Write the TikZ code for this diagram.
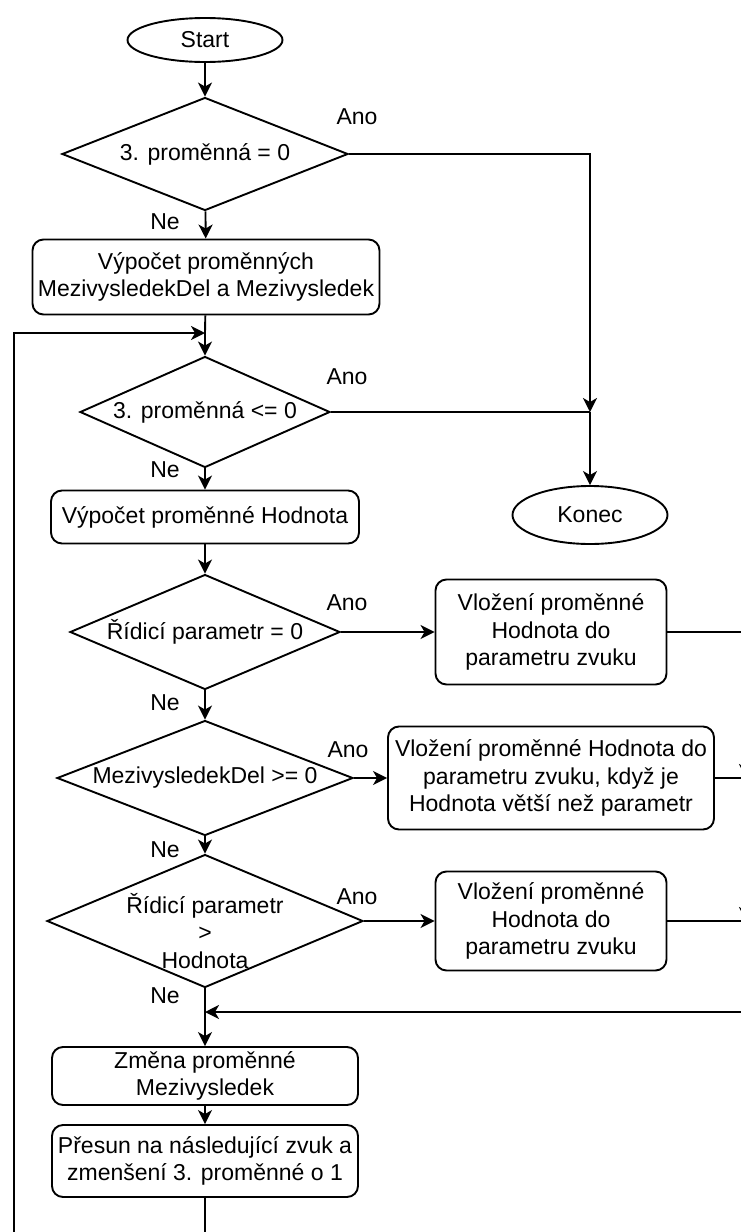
\documentclass[tikz,border=0pt]{standalone}
\usepackage{fontspec}
\setmainfont{Liberation Sans}
\usetikzlibrary{shapes.geometric,arrows.meta}
\begin{document}
\begin{tikzpicture}[x=1pt,y=-1pt,
  every node/.style={font=\fontsize{23}{27.5}\selectfont},
  line/.style={line width=1.9pt},
  arr/.style={line, -{Stealth[length=14pt,width=14pt,inset=4pt]}},
  term/.style={ellipse, draw, line width=1.9pt, inner sep=0pt},
  dec/.style={diamond, draw, line width=1.9pt, inner sep=0pt, aspect=2.5},
  proc/.style={rectangle, rounded corners=11pt, draw, line width=1.9pt, inner sep=0pt, align=center},
  lbl/.style={inner sep=0pt}
]
\useasboundingbox (0,0) rectangle (741,1232);
\clip (0,0) rectangle (741,1232);

% main column
\node[term, minimum width=155pt, minimum height=44pt] (start) at (205,40) {Start};
\node[dec, minimum width=286pt, minimum height=113pt] (d1) at (205,154) {3. proměnná = 0};
\node[proc, minimum width=347pt, minimum height=75pt] (b1) at (206,277) {Výpočet proměnných\\MezivysledekDel a Mezivysledek};
\node[dec, minimum width=250pt, minimum height=111pt] (d2) at (205,412) {3. proměnná <= 0};
\node[term, minimum width=155pt, minimum height=58pt] (konec) at (590,515) {Konec};
\node[proc, minimum width=308pt, minimum height=53pt] (b2) at (205,517) {Výpočet proměnné Hodnota};
\node[dec, minimum width=270pt, minimum height=115pt] (d3) at (205,632) {Řídicí parametr = 0};
\node[proc, minimum width=231pt, minimum height=105pt] (ba) at (551,632) {Vložení proměnné\\Hodnota do\\parametru zvuku};
\node[dec, minimum width=296pt, minimum height=115pt] (d4) at (205,778) {MezivysledekDel >= 0};
\node[proc, minimum width=326pt, minimum height=103pt] (bb) at (551,778) {Vložení proměnné Hodnota do\\parametru zvuku, když je\\Hodnota větší než parametr};
% this decision's text runs over its outline, so the outline is sized on its own
\node[dec, minimum width=316pt, minimum height=133pt] (d5) at (205,921) {};
\node[lbl, align=center] (d5text) at (205,931) {Řídicí parametr\\>\\Hodnota};
\node[proc, minimum width=231pt, minimum height=99pt] (bc) at (551,921) {Vložení proměnné\\Hodnota do\\parametru zvuku};
\node[proc, minimum width=306pt, minimum height=58pt] (bd) at (205,1076) {Změna proměnné\\Mezivysledek};
\node[proc, minimum width=306pt, minimum height=72pt] (be) at (205,1161) {Přesun na následující zvuk a\\zmenšení 3. proměnné o 1};

% branch labels
\node[lbl] (l1a) at (357,117) {Ano};
\node[lbl] (l1n) at (165,222) {Ne};
\node[lbl] (l2a) at (347,377) {Ano};
\node[lbl] (l2n) at (165,470) {Ne};
\node[lbl] (l3a) at (347,603) {Ano};
\node[lbl] (l3n) at (165,703) {Ne};
\node[lbl] (l4a) at (348,750) {Ano};
\node[lbl] (l4n) at (165,850) {Ne};
\node[lbl] (l5a) at (357,897) {Ano};
\node[lbl] (l5n) at (165,996) {Ne};

% junction points
\coordinate (jend) at (590,412);
\coordinate (jloop) at (205,333);
\coordinate (jmerge) at (205,1012);
\coordinate (ra) at (746,632);
\coordinate (rb) at (746,778);
\coordinate (rc) at (746,921);
\coordinate (rd) at (746,1012);
\coordinate (loopbot) at (14,1240);
\coordinate (loopcorner) at (14,333);
\coordinate (bebot) at (205,1240);

% connectors
\draw[arr] (start) -- (d1);
\draw[arr] (d1) -- (b1);
\draw[arr] (d1.east) -| (jend);
\draw[arr] (jend) -- (konec);
\draw[line] (b1) -- (jloop);
\draw[arr] (jloop) -- (d2);
\draw[line] (d2.east) -- (jend);
\draw[arr] (d2) -- (b2);
\draw[arr] (b2) -- (d3);
\draw[arr] (d3) -- (ba);
\draw[arr] (d3) -- (d4);
\draw[arr] (d4) -- (bb);
\draw[arr] (d4) -- (d5);
\draw[arr] (d5) -- (bc);
\draw[line] (d5) -- (jmerge);
\draw[arr] (jmerge) -- (bd);
\draw[arr] (bd) -- (be);
\draw[line] (be) -- (bebot);
\draw[arr] (loopbot) -- (loopcorner) -- (jloop);
\draw[line] (ba) -- (ra);
\draw[arr] (ra) -- (rb);
\draw[line] (bb) -- (rb);
\draw[arr] (rb) -- (rc);
\draw[line] (bc) -- (rc);
\draw[arr] (rc) -- (rd) -- (jmerge);
\end{tikzpicture}
\end{document}
